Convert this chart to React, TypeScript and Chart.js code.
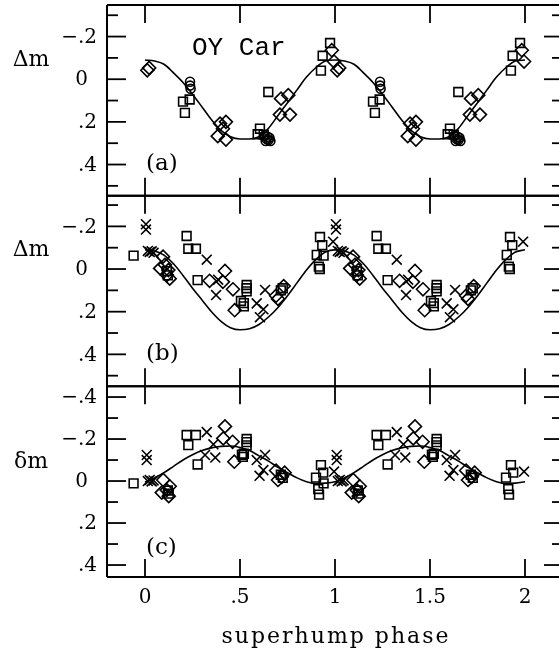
import React, { useEffect, useRef } from 'react';
import { Chart, registerables } from 'chart.js';
Chart.register(...registerables);

// ---------- x axis ----------
const xMin = -0.2;
const xMax = 2.2;
const xTickValues = [0, 0.5, 1, 1.5, 2];
const xTickLabels = ['0', '.5', '1', '1.5', '2'];
const xTitle = 'superhump phase';

// ---------- y axes ----------
const yTickValues = [-0.4, -0.3, -0.2, -0.1, 0, 0.1, 0.2, 0.3, 0.4, 0.5];
const yMajorValues = [-0.4, -0.2, 0, 0.2, 0.4];
const yMajorLabels = ['\u2212.4', '\u2212.2', '0', '.2', '.4'];
const panelTitles = ['\u0394m', '\u0394m', '\u03b4m'];
const panelTags = ['(a)', '(b)', '(c)'];
const starName = 'OY Car';

// ---------- panel (a) ----------
const aSqX = [0.2, 0.235, 0.21, 0.605, 0.593, 0.625, 0.649, 0.974, 0.935, 0.926];
const aSqY = [0.105, 0.095, 0.158, 0.232, 0.258, 0.26, 0.06, -0.17, -0.11, -0.04];
const aDiX = [0.012, 0.022, 0.395, 0.426, 0.41, 0.383, 0.426, 0.716, 0.754, 0.71, 0.763, 0.983, 0.995];
const aDiY = [-0.042, -0.053, 0.208, 0.2, 0.232, 0.267, 0.283, 0.091, 0.075, 0.166, 0.166, -0.136, -0.083];
const aCiX = [0.237, 0.237, 0.24, 0.63, 0.64, 0.645, 0.65, 0.655, 0.66, 0.635];
const aCiY = [0.012, 0.03, 0.045, 0.265, 0.28, 0.27, 0.285, 0.275, 0.29, 0.29];
const aFitX = [0, 0.05, 0.1, 0.15, 0.2, 0.25, 0.3, 0.35, 0.4, 0.45, 0.5, 0.55, 0.6, 0.65, 0.7, 0.75, 0.8, 0.85, 0.9, 0.95, 1.0];
const aFitY = [-0.09, -0.085, -0.07, -0.03, 0.015, 0.07, 0.13, 0.19, 0.24, 0.27, 0.28, 0.28, 0.27, 0.23, 0.17, 0.11, 0.05, -0.01, -0.055, -0.085, -0.09];

// ---------- panel (b) ----------
const bSqX = [-0.06, 0.115, 0.12, 0.219, 0.228, 0.268, 0.277, 0.535, 0.535, 0.535, 0.505, 0.52, 0.52, 0.715, 0.725, 0.921, 0.933, 0.904, 0.915, 0.92];
const bSqY = [-0.063, 0.01, 0.03, -0.155, -0.095, -0.095, 0.052, 0.075, 0.09, 0.105, 0.15, 0.16, 0.175, 0.1, 0.09, -0.15, -0.112, -0.066, -0.011, 0.0];
const bDiX = [0.095, 0.08, 0.105, 0.123, 0.13, 0.115, 0.34, 0.421, 0.41, 0.463, 0.472, 0.69, 0.73, 0.7];
const bDiY = [-0.058, -0.003, -0.02, 0.005, 0.045, 0.028, 0.055, 0.009, 0.06, 0.095, 0.193, 0.125, 0.08, 0.14];
const bXX = [0.005, 0.005, 0.015, 0.025, 0.035, 0.045, 0.325, 0.385, 0.374, 0.632, 0.588, 0.623, 0.605, 0.99];
const bXY = [-0.21, -0.185, -0.085, -0.08, -0.083, -0.076, -0.044, 0.05, 0.122, 0.098, 0.161, 0.189, 0.226, -0.128];
const bFitX = [0, 0.05, 0.1, 0.15, 0.2, 0.25, 0.3, 0.35, 0.4, 0.45, 0.5, 0.55, 0.6, 0.65, 0.7, 0.75, 0.8, 0.85, 0.9, 0.95, 1.0];
const bFitY = [-0.09, -0.085, -0.065, -0.025, 0.03, 0.09, 0.145, 0.2, 0.245, 0.275, 0.285, 0.28, 0.26, 0.225, 0.18, 0.125, 0.065, 0.005, -0.045, -0.08, -0.09];

// ---------- panel (c) ----------
const cSqX = [-0.06, 0.12, 0.125, 0.219, 0.268, 0.228, 0.277, 0.535, 0.535, 0.535, 0.51, 0.52, 0.515, 0.715, 0.725, 0.926, 0.938, 0.9, 0.912, 0.916];
const cSqY = [0.011, 0.045, 0.06, -0.219, -0.219, -0.171, -0.079, -0.2, -0.185, -0.17, -0.125, -0.13, -0.115, -0.03, -0.015, -0.076, -0.04, -0.016, 0.038, 0.065];
const cDiX = [0.096, 0.13, 0.088, 0.125, 0.114, 0.421, 0.412, 0.461, 0.47, 0.69, 0.735, 0.72, 0.7];
const cDiY = [-0.005, 0.025, 0.055, 0.072, 0.043, -0.26, -0.203, -0.187, -0.092, -0.05, -0.04, -0.02, -0.005];
const cXX = [0.009, 0.009, 0.015, 0.025, 0.035, 0.045, 0.325, 0.316, 0.37, 0.36, 0.632, 0.588, 0.623, 0.603, 0.995];
const cXY = [-0.124, -0.1, 0.0, -0.005, 0.002, -0.003, -0.233, -0.124, -0.112, -0.175, -0.124, -0.1, -0.052, -0.025, -0.045];
const cFitX = [0, 0.05, 0.1, 0.15, 0.2, 0.25, 0.3, 0.35, 0.4, 0.45, 0.5, 0.55, 0.6, 0.65, 0.7, 0.75, 0.8, 0.85, 0.9, 0.95, 1.0];
const cFitY = [0.005, -0.015, -0.04, -0.07, -0.1, -0.125, -0.145, -0.158, -0.165, -0.167, -0.16, -0.145, -0.12, -0.095, -0.065, -0.04, -0.015, 0.003, 0.012, 0.01, 0.003];

// two cycles of phase (phase and phase + 1)
function twoCycles(xs: number[], ys: number[]) {
  const out: { x: number; y: number }[] = [];
  xs.forEach((x, i) => out.push({ x, y: ys[i] }));
  xs.forEach((x, i) => {
    if (x + 1 <= 2.005) out.push({ x: x + 1, y: ys[i] });
  });
  return out;
}
function fitCycles(xs: number[], ys: number[]) {
  const out: { x: number; y: number }[] = [];
  xs.forEach((x, i) => out.push({ x, y: ys[i] }));
  xs.forEach((x, i) => {
    if (x > 0) out.push({ x: x + 1, y: ys[i] });
  });
  return out;
}

const BLACK = '#000';
const marker = (style: string, radius: number) => ({
  pointStyle: style,
  pointRadius: radius,
  pointBorderWidth: 1.6,
  pointBorderColor: BLACK,
  pointBackgroundColor: 'rgba(0,0,0,0)',
  pointHoverRadius: radius,
  showLine: false,
});
const fitLine = () => ({
  showLine: true,
  pointRadius: 0,
  borderColor: BLACK,
  borderWidth: 1.6,
  cubicInterpolationMode: 'monotone' as const,
  fill: false,
});

const SERIF = '"DejaVu Serif", serif';

const framePlugin = {
  id: 'framePlugin',
  afterDraw(chart: any) {
    const ctx: CanvasRenderingContext2D = chart.ctx;
    const xs = chart.scales.x;
    const area = chart.chartArea;
    const ids = ['ya', 'yb', 'yc'];
    ctx.save();
    ctx.strokeStyle = BLACK;
    ctx.fillStyle = BLACK;
    const seg = (x1: number, y1: number, x2: number, y2: number) => {
      ctx.beginPath();
      ctx.moveTo(x1, y1);
      ctx.lineTo(x2, y2);
      ctx.stroke();
    };
    ids.forEach((id, k) => {
      const s = chart.scales[id];
      const top = s.top;
      const bottom = s.bottom;
      ctx.lineWidth = 1.8;
      xTickValues.forEach((v) => {
        const px = xs.getPixelForValue(v);
        seg(px, top, px, top + 18);
        seg(px, bottom - 18, px, bottom);
      });
      const lo = Math.min(s.min, s.max);
      const hi = Math.max(s.min, s.max);
      yTickValues.forEach((v) => {
        if (v < lo || v > hi) return;
        const py = s.getPixelForValue(v);
        const mi = yMajorValues.findIndex((m) => Math.abs(m - v) < 1e-9);
        const len = mi >= 0 ? 19 : 11;
        seg(area.left, py, area.left + len, py);
        seg(area.right - len, py, area.right, py);
        if (mi >= 0) {
          ctx.font = '20px ' + SERIF;
          ctx.textBaseline = 'middle';
          const lab = yMajorLabels[mi];
          if (lab === '0') {
            ctx.textAlign = 'center';
            ctx.fillText(lab, 81.5, py + 1);
          } else {
            ctx.textAlign = 'right';
            ctx.fillText(lab, 97, py + 1);
          }
        }
      });
      // panel y title
      ctx.font = '22px ' + SERIF;
      ctx.textAlign = 'center';
      ctx.textBaseline = 'middle';
      const yt = [60, 250, 462][k];
      ctx.fillText(panelTitles[k], 31, yt);
      // panel tag
      ctx.textAlign = 'left';
      ctx.font = '23px ' + SERIF;
      ctx.fillText(panelTags[k], 146, [164, 354, 548][k]);
      // separator / frame
      ctx.lineWidth = 2;
      seg(area.left, top, area.right, top);
      seg(area.left, bottom, area.right, bottom);
    });
    ctx.lineWidth = 2;
    seg(area.left, area.top, area.left, area.bottom);
    seg(area.right, area.top, area.right, area.bottom);
    // star name
    ctx.font = '26px "Liberation Mono", monospace';
    ctx.textAlign = 'left';
    ctx.textBaseline = 'middle';
    ctx.fillText(starName, 192, 48);
    // x tick labels
    ctx.font = '20px ' + SERIF;
    ctx.textAlign = 'center';
    ctx.textBaseline = 'middle';
    xTickValues.forEach((v, i) => {
      ctx.fillText(xTickLabels[i], xs.getPixelForValue(v), 598);
    });
    // x title
    ctx.font = '22px ' + SERIF;
    (ctx as any).letterSpacing = '2px';
    ctx.textBaseline = 'alphabetic';
    ctx.fillText(xTitle, 336, 643);
    (ctx as any).letterSpacing = '0px';
    ctx.restore();
  },
};

export default function App() {
  const ref = useRef<HTMLCanvasElement | null>(null);
  useEffect(() => {
    if (!ref.current) return;
    const chart = new Chart(ref.current, {
      type: 'scatter',
      data: {
        datasets: [
          { ...fitLine(), data: fitCycles(aFitX, aFitY), yAxisID: 'ya' },
          { ...marker('rect', 6.2), data: twoCycles(aSqX, aSqY), yAxisID: 'ya' },
          { ...marker('rectRot', 6.5), data: twoCycles(aDiX, aDiY), yAxisID: 'ya' },
          { ...marker('circle', 4.5), data: twoCycles(aCiX, aCiY), yAxisID: 'ya' },
          { ...fitLine(), data: fitCycles(bFitX, bFitY), yAxisID: 'yb' },
          { ...marker('rect', 6.2), data: twoCycles(bSqX, bSqY), yAxisID: 'yb' },
          { ...marker('rectRot', 6.5), data: twoCycles(bDiX, bDiY), yAxisID: 'yb' },
          { ...marker('crossRot', 7), data: twoCycles(bXX, bXY), yAxisID: 'yb' },
          { ...fitLine(), data: fitCycles(cFitX, cFitY), yAxisID: 'yc' },
          { ...marker('rect', 6.2), data: twoCycles(cSqX, cSqY), yAxisID: 'yc' },
          { ...marker('rectRot', 6.5), data: twoCycles(cDiX, cDiY), yAxisID: 'yc' },
          { ...marker('crossRot', 7), data: twoCycles(cXX, cXY), yAxisID: 'yc' },
        ] as any,
      },
      options: {
        animation: false,
        responsive: false,
        devicePixelRatio: 1,
        events: [],
        layout: { autoPadding: false, padding: { left: 107, top: 5, right: 0, bottom: 75 } },
        plugins: { legend: { display: false }, tooltip: { enabled: false } },
        scales: {
          x: { type: 'linear', min: xMin, max: xMax, display: false },
          ya: { type: 'linear', position: 'left', stack: 'panels', stackWeight: 1, weight: 3, min: -0.348, max: 0.546, reverse: true, display: false },
          yb: { type: 'linear', position: 'left', stack: 'panels', stackWeight: 1, weight: 2, min: -0.344, max: 0.55, reverse: true, display: false },
          yc: { type: 'linear', position: 'left', stack: 'panels', stackWeight: 1, weight: 1, min: -0.451, max: 0.457, reverse: true, display: false },
        } as any,
      },
      plugins: [framePlugin],
    });
    return () => chart.destroy();
  }, []);
  return (
    <div style={{ position: 'absolute', left: 0, top: 0, width: 559, height: 652, overflow: 'hidden', background: '#fff' }}>
      <canvas ref={ref} width={563} height={652} style={{ display: 'block' }} />
    </div>
  );
}
